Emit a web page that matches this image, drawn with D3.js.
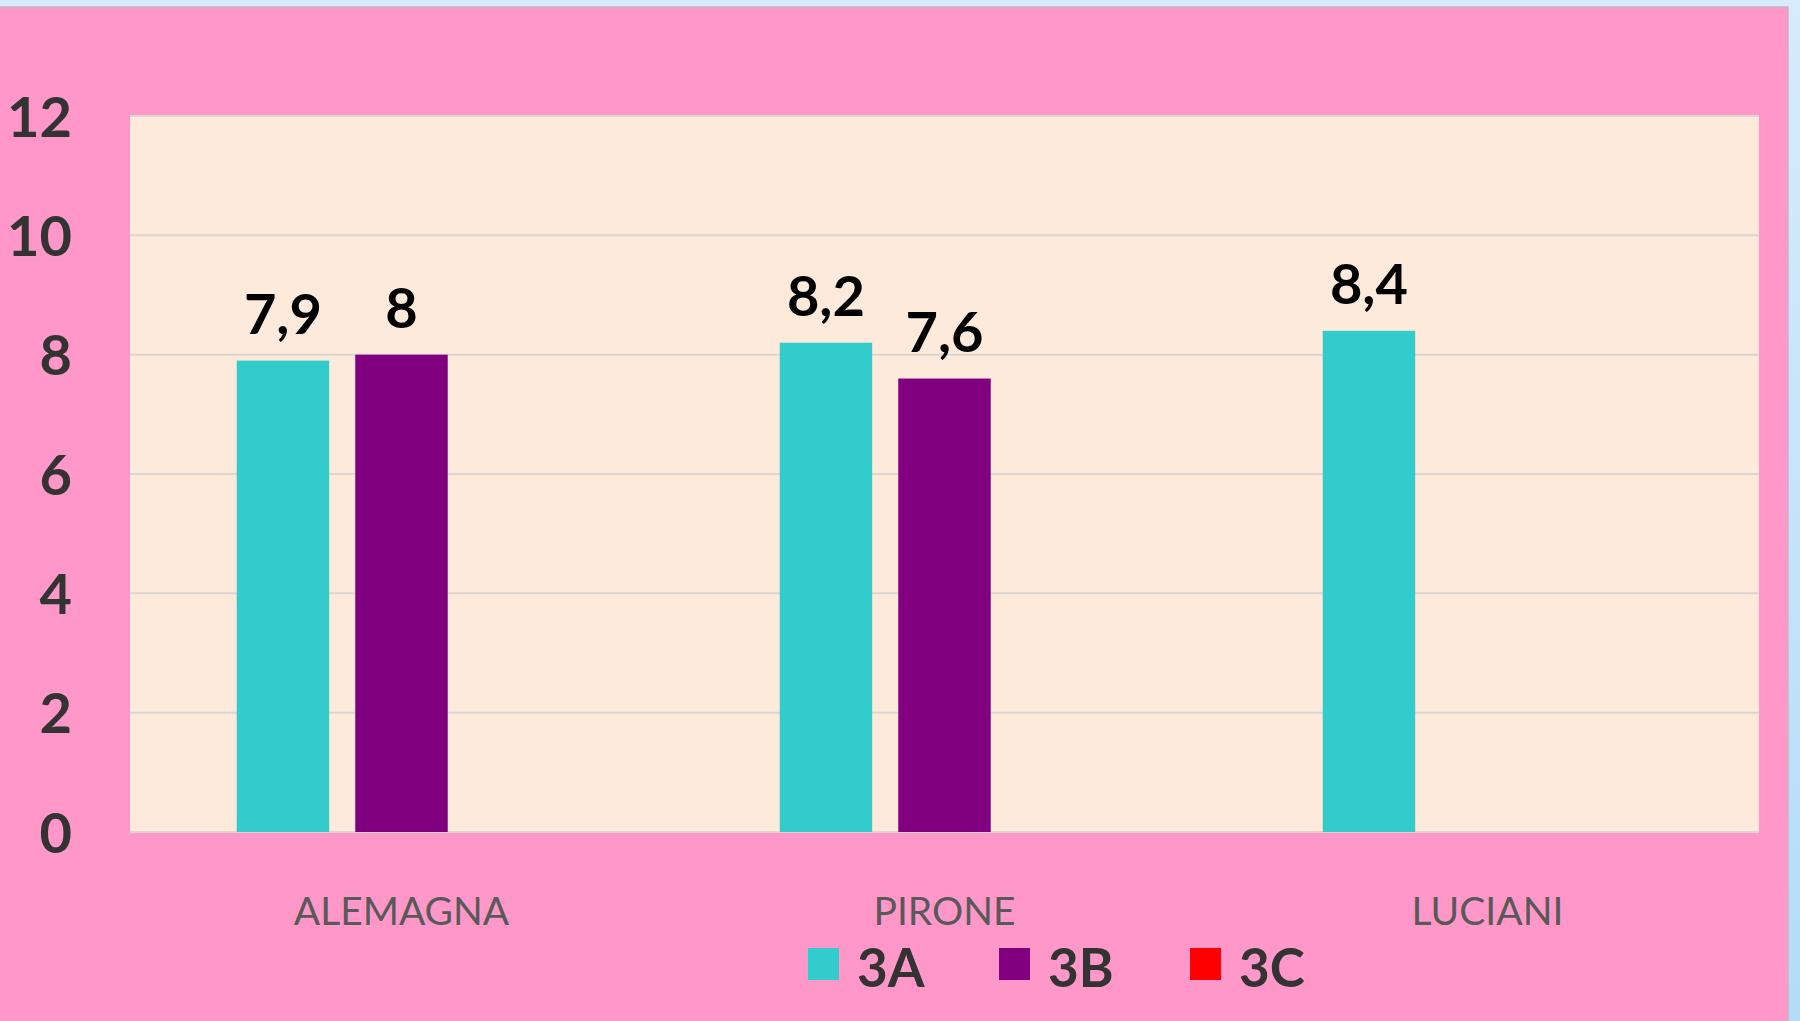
<!DOCTYPE html>
<html>
<head>
<meta charset="UTF-8">
<title>Voti 3A 3B 3C</title>
<script src="https://d3js.org/d3.v7.min.js"></script>
<style>
    html, body { margin: 0; padding: 0; overflow: hidden; }
    svg { display: block; }
</style>
</head>
<body>
<svg width="1800" height="1021"></svg>
<script>
    var categories = ['ALEMAGNA', 'PIRONE', 'LUCIANI'];
    var series = ['3A', '3B', '3C'];
    var values3A = [7.9, 8.2, 8.4];
    var values3B = [8, 7.6, null];
    var values3C = [null, null, null];
    var yTicks = [0, 2, 4, 6, 8, 10, 12];
    var colors = ['#33cccc', '#800080', '#ff0000'];

    var allValues = [values3A, values3B, values3C];

    var svg = d3.select('svg');
    var W = 1800, H = 1021;
    var plot = { left: 130, right: 1759, top: 116, bottom: 832 };

    // sfondo: striscia azzurra + riquadro rosa
    var defs = svg.append('defs');
    var grad = defs.append('linearGradient').attr('id', 'blu')
        .attr('x1', 0).attr('y1', 0).attr('x2', 0).attr('y2', 1);
    grad.append('stop').attr('offset', '0%').attr('stop-color', '#d6ebfc');
    grad.append('stop').attr('offset', '100%').attr('stop-color', '#b3dcf8');
    svg.append('rect').attr('width', W).attr('height', H).attr('fill', 'url(#blu)');
    svg.append('rect')
        .attr('x', -2).attr('y', 7).attr('width', 1790).attr('height', H)
        .attr('fill', '#ff98c8')
        .attr('stroke', '#c8b4c0').attr('stroke-width', 1.5);

    // area del grafico
    svg.append('rect')
        .attr('x', plot.left).attr('y', plot.top)
        .attr('width', plot.right - plot.left).attr('height', plot.bottom - plot.top)
        .attr('fill', '#fdeadb');

    var x0 = d3.scaleBand()
        .domain(categories)
        .range([plot.left, plot.right]);
    var x1 = d3.scaleBand()
        .domain(series)
        .range([0, x0.bandwidth()])
        .paddingInner(0.22)
        .paddingOuter(0.9);
    var y = d3.scaleLinear()
        .domain([0, 12])
        .range([plot.bottom, plot.top]);

    // griglia
    svg.append('g')
        .selectAll('line')
        .data(yTicks)
        .enter().append('line')
        .attr('x1', plot.left).attr('x2', plot.right)
        .attr('y1', function(d) { return y(d); })
        .attr('y2', function(d) { return y(d); })
        .attr('stroke', '#dcd6d2')
        .attr('stroke-width', 2);

    // asse y
    var yAxis = d3.axisLeft(y).tickValues(yTicks).tickSize(0).tickPadding(0);
    var gy = svg.append('g')
        .attr('transform', 'translate(72,0)')
        .call(yAxis);
    gy.select('.domain').remove();
    gy.selectAll('text')
        .attr('font-family', 'Lato, sans-serif')
        .attr('font-weight', 'bold')
        .attr('font-size', '56px')
        .attr('fill', '#333333')
        .attr('dy', '0.36em');

    // asse x
    var xAxis = d3.axisBottom(x0).tickSize(0).tickPadding(0);
    var gx = svg.append('g')
        .attr('transform', 'translate(0,' + plot.bottom + ')')
        .call(xAxis);
    gx.select('.domain').remove();
    gx.selectAll('text')
        .attr('font-family', 'Lato, sans-serif')
        .attr('font-size', '39px')
        .attr('fill', '#595959')
        .attr('y', 93)
        .attr('dy', 0);

    // barre
    allValues.forEach(function(vals, s) {
        var g = svg.append('g').attr('class', 'serie' + s);
        var data = vals.map(function(v, i) { return { cat: categories[i], v: v }; })
            .filter(function(d) { return d.v != null; });
        g.selectAll('rect')
            .data(data)
            .enter().append('rect')
            .attr('x', function(d) { return x0(d.cat) + x1(series[s]); })
            .attr('y', function(d) { return y(d.v); })
            .attr('width', x1.bandwidth())
            .attr('height', function(d) { return y(0) - y(d.v); })
            .attr('fill', colors[s]);
        g.selectAll('text')
            .data(data)
            .enter().append('text')
            .attr('x', function(d) { return x0(d.cat) + x1(series[s]) + x1.bandwidth() / 2; })
            .attr('y', function(d) { return y(d.v) - 27; })
            .attr('text-anchor', 'middle')
            .attr('font-family', 'Lato, sans-serif')
            .attr('font-weight', 'bold')
            .attr('font-size', '56px')
            .attr('fill', '#000000')
            .text(function(d) { return String(d.v).replace('.', ','); });
    });

    // legenda
    var legend = svg.append('g').attr('transform', 'translate(808,948)');
    series.forEach(function(name, i) {
        var item = legend.append('g').attr('transform', 'translate(' + (i * 191) + ',0)');
        item.append('rect')
            .attr('width', 31).attr('height', 32)
            .attr('fill', colors[i]);
        item.append('text')
            .attr('x', 49).attr('y', 39)
            .attr('font-family', 'Lato, sans-serif')
            .attr('font-weight', 'bold')
            .attr('font-size', '53px')
            .attr('fill', '#333333')
            .text(name);
    });
</script>
</body>
</html>
